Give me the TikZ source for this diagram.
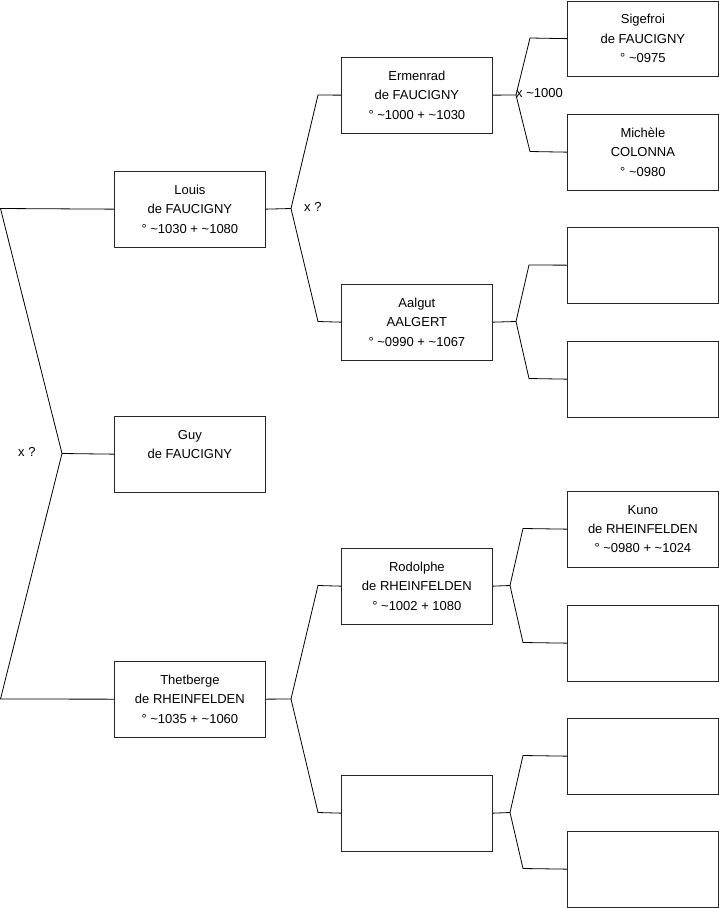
\documentclass[tikz,border=0pt]{standalone}
\usepackage{fontspec}
\setmainfont{Liberation Sans}
\begin{document}
\begin{tikzpicture}[x=1pt,y=-1pt,
  pbox/.style={draw=black!85,line width=0.8pt,rectangle,minimum width=151pt,minimum height=75.5pt,inner sep=0pt,anchor=north west,align=center,font=\fontsize{13}{19.3}\selectfont},
  conn/.style={draw=black,line width=0.8pt},
  lbl/.style={font=\fontsize{13}{15}\selectfont,inner sep=0pt}]
\useasboundingbox (0,0) rectangle (719,908);
% column 1
\node[pbox] (louis) at (114,171) {Louis\\de FAUCIGNY\\° \textasciitilde1030 + \textasciitilde1080};
\node[pbox] (guy) at (114,416) {Guy\\de FAUCIGNY\\\mbox{}};
\node[pbox] (thet) at (114,661) {Thetberge\\de RHEINFELDEN\\° \textasciitilde1035 + \textasciitilde1060};
% column 2
\node[pbox] (erm) at (341,57) {Ermenrad\\de FAUCIGNY\\° \textasciitilde1000 + \textasciitilde1030};
\node[pbox] (aal) at (341,284) {Aalgut\\AALGERT\\° \textasciitilde0990 + \textasciitilde1067};
\node[pbox] (rod) at (341,548) {Rodolphe\\de RHEINFELDEN\\° \textasciitilde1002 + 1080};
\node[pbox] (e2) at (341,775) {};
% column 3
\node[pbox] (sig) at (567,0.5) {Sigefroi\\de FAUCIGNY\\° \textasciitilde0975};
\node[pbox] (mich) at (567,114) {Michèle\\COLONNA\\° \textasciitilde0980};
\node[pbox] (e3a) at (567,227) {};
\node[pbox] (e3b) at (567,341) {};
\node[pbox] (kuno) at (567,491) {Kuno\\de RHEINFELDEN\\° \textasciitilde0980 + \textasciitilde1024};
\node[pbox] (e3c) at (567,605) {};
\node[pbox] (e3d) at (567,718) {};
\node[pbox] (e3e) at (567,831) {};
% root connectors
\coordinate (r1) at (0.5,208.5);
\coordinate (r2) at (0.5,699);
\coordinate (rj) at (62,453.5);
\draw[conn] (louis.west) -- (r1) -- (rj) -- (r2) -- (thet.west);
\draw[conn] (rj) -- (guy.west);
\node[lbl,anchor=west] (lx) at (18,452) {x ?};
% Louis
\coordinate (lj) at (291,208.5);
\draw[conn] (louis.east) -- (lj);
\draw[conn] (lj) -- (318,95) -- (erm.west);
\draw[conn] (lj) -- (318,321.5) -- (aal.west);
\node[lbl,anchor=west] (lx2) at (304,207) {x ?};
% Ermenrad
\coordinate (ej) at (516,95);
\draw[conn] (erm.east) -- (ej);
\draw[conn] (ej) -- (530,38) -- (sig.west);
\draw[conn] (ej) -- (530,151.5) -- (mich.west);
\node[lbl,anchor=west] (lx3) at (516,93) {x \textasciitilde1000};
% Aalgut
\coordinate (aj) at (516,321.5);
\draw[conn] (aal.east) -- (aj);
\draw[conn] (aj) -- (529,265) -- (e3a.west);
\draw[conn] (aj) -- (529,378.5) -- (e3b.west);
% Thetberge
\coordinate (tj) at (291,699);
\draw[conn] (thet.east) -- (tj);
\draw[conn] (tj) -- (318,585.5) -- (rod.west);
\draw[conn] (tj) -- (318,812.5) -- (e2.west);
% Rodolphe
\coordinate (rdj) at (510,585.5);
\draw[conn] (rod.east) -- (rdj);
\draw[conn] (rdj) -- (523,528.5) -- (kuno.west);
\draw[conn] (rdj) -- (523,642.5) -- (e3c.west);
% empty col2
\coordinate (ej2) at (510,812.5);
\draw[conn] (e2.east) -- (ej2);
\draw[conn] (ej2) -- (523,755.5) -- (e3d.west);
\draw[conn] (ej2) -- (523,868.5) -- (e3e.west);
\end{tikzpicture}
\end{document}
